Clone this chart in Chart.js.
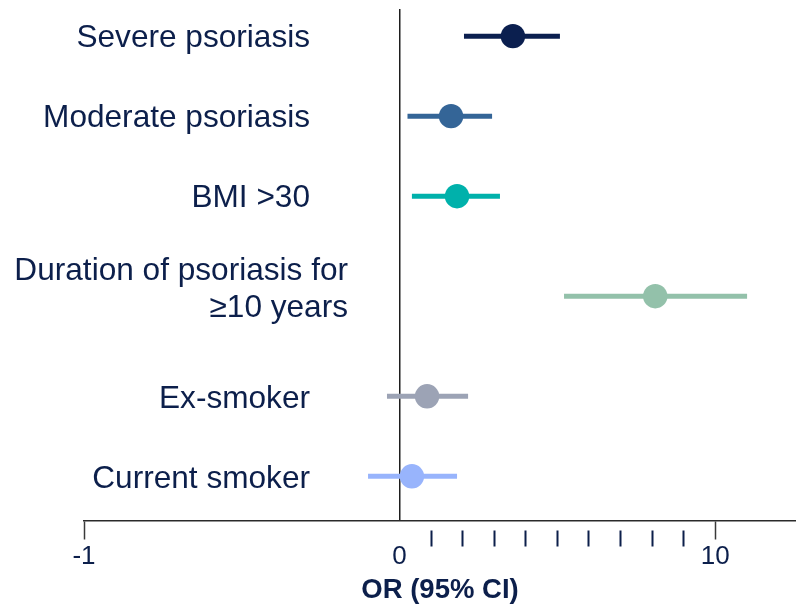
<!DOCTYPE html>
<html>
<head>
<meta charset="utf-8">
<title>Odds ratios</title>
<style>
  html, body { margin: 0; padding: 0; background: #ffffff; }
  #wrap { width: 796px; height: 604px; position: relative; }
</style>
<script src="https://cdn.jsdelivr.net/npm/chart.js@4.4.1/dist/chart.umd.min.js"></script>
</head>
<body>
<div id="wrap"><canvas id="forest"></canvas></div>
<script>
// Rows, top to bottom
const categories = [
  'Severe psoriasis',
  'Moderate psoriasis',
  'BMI >30',
  ['Duration of psoriasis for', '\u226510 years'],
  'Ex-smoker',
  'Current smoker'
];
// Odds ratio with 95% confidence interval for each row
const oddsRatio = [3.59, 1.63, 1.82, 8.10, 0.87, 0.39];
const ciLower   = [2.04, 0.25, 0.39, 5.21, -0.04, -0.10];
const ciUpper   = [5.08, 2.93, 3.18, 11.01, 2.17, 1.82];
// Axis ticks and which of them carry a label
const tickValues = [-1, 0, 1, 2, 3, 4, 5, 6, 7, 8, 9, 10];
const labelledTicks = [-1, 0, 10];
const axisTitle = 'OR (95% CI)';

const rowColors = ['#0b1f4f', '#346597', '#00b1ab', '#93c1aa', '#9ca3b5', '#98b4fc'];
const NAVY = '#0c1f4b';
const FONT = '"Liberation Sans", Arial, Helvetica, sans-serif';
const LABEL_SIZE = 31.6;

Chart.defaults.font.family = FONT;

// Horizontal scale where the stretch from -1 to 0 is as wide as 0 to 10
class SplitScale extends Chart.LinearScale {
  _seg() { return this.width / (1 + this.max / 10); }
  getPixelForValue(value) {
    const seg = this._seg();
    const off = value < 0 ? (value + 1) * seg : seg + value * seg / 10;
    return this.left + off;
  }
  getValueForPixel(pixel) {
    const seg = this._seg();
    const off = pixel - this.left;
    return off < seg ? off / seg - 1 : (off - seg) * 10 / seg;
  }
}
SplitScale.id = 'split';

// Vertical row scale: a row with a two-line caption gets more room than a one-line row
class RowScale extends Chart.LinearScale {
  getPixelForValue(value) {
    const weights = categories.map(c => 1 + (Array.isArray(c) ? c.length : 1));
    const centers = [];
    let acc = 0;
    weights.forEach(w => { centers.push(acc + w / 2); acc += w; });
    const n = centers.length;
    const head = 0.678, tail = 1.105;
    const unit = this.height / (centers[n - 1] - centers[0] + head + tail);
    const i = Math.max(0, Math.min(n - 2, Math.floor(value)));
    const c = centers[i] + (value - i) * (centers[i + 1] - centers[i]);
    return this.top + (head + c - centers[0]) * unit;
  }
}
RowScale.id = 'rows';

Chart.register(SplitScale, RowScale);

// Row captions, right-aligned to the left of the zero line
const rowLabels = {
  id: 'rowLabels',
  afterDatasetsDraw(chart) {
    const { ctx, scales: { x, y } } = chart;
    const zero = x.getPixelForValue(0);
    const capHalf = LABEL_SIZE * 0.358;
    ctx.save();
    ctx.font = LABEL_SIZE + 'px ' + FONT;
    ctx.fillStyle = NAVY;
    ctx.textAlign = 'right';
    ctx.textBaseline = 'alphabetic';
    categories.forEach((label, i) => {
      const yc = y.getPixelForValue(i);
      if (Array.isArray(label)) {
        const n = label.length;
        label.forEach((line, j) => {
          const ly = yc - 9 + (j - (n - 1) / 2) * 36.5;
          ctx.fillText(line, zero - 51.6, ly + capHalf);
        });
      } else {
        ctx.fillText(label, zero - 89.6, yc + capHalf);
      }
    });
    ctx.restore();
  }
};

const rows = categories.map((_, i) => i);

const ciSets = rows.map(i => ({
  type: 'line',
  data: [{ x: ciLower[i], y: i }, { x: ciUpper[i], y: i }],
  borderColor: rowColors[i],
  borderWidth: 5,
  borderCapStyle: 'butt',
  pointRadius: 0,
  pointHoverRadius: 0,
  fill: false,
  order: 2
}));

const pointSet = {
  type: 'scatter',
  data: rows.map(i => ({ x: oddsRatio[i], y: i })),
  pointBackgroundColor: rowColors,
  pointBorderColor: rowColors,
  pointBorderWidth: 0,
  pointRadius: 12.2,
  pointHoverRadius: 12.2,
  order: 1
};

new Chart(document.getElementById('forest'), {
  type: 'scatter',
  data: { datasets: [pointSet, ...ciSets] },
  options: {
    responsive: true,
    maintainAspectRatio: false,
    animation: false,
    events: [],
    layout: { autoPadding: false, padding: { left: 84, top: 9, right: 0, bottom: 0 } },
    plugins: {
      legend: { display: false },
      tooltip: { enabled: false }
    },
    scales: {
      x: {
        type: 'split',
        position: 'bottom',
        min: -1,
        max: 12.56,
        afterBuildTicks: s => { s.ticks = tickValues.map(v => ({ value: v })); },
        afterFit: s => { s.paddingLeft = 0; s.paddingRight = 0; },
        grid: {
          display: true,
          drawOnChartArea: true,
          drawTicks: true,
          tickLength: 26,
          color: c => (c.tick && c.tick.value === 0) ? '#1e1e1e' : 'rgba(0,0,0,0)',
          lineWidth: c => (c.tick && c.tick.value === 0) ? 1.5 : 1,
          tickColor: c => {
            const v = c.tick ? c.tick.value : null;
            if (v === 0) return 'rgba(0,0,0,0)';
            return labelledTicks.includes(v) ? '#3a3a3a' : NAVY;
          },
          tickWidth: c => (c.tick && labelledTicks.includes(c.tick.value)) ? 1.5 : 2,
          tickBorderDash: c => (c.tick && labelledTicks.includes(c.tick.value)) ? [18, 100] : [0, 9, 17, 100]
        },
        border: { display: true, color: '#2a2a2a', width: 1.5 },
        ticks: {
          autoSkip: false,
          maxRotation: 0,
          minRotation: 0,
          padding: -3,
          color: NAVY,
          font: { size: 26, lineHeight: 1 },
          callback: v => labelledTicks.includes(v) ? String(v) : ''
        },
        title: {
          display: true,
          text: axisTitle,
          color: NAVY,
          font: { size: 27.5, weight: 'bold', lineHeight: 1 },
          padding: { top: 10, bottom: 0 }
        }
      },
      y: {
        type: 'rows',
        display: false,
        min: 0,
        max: categories.length - 1
      }
    }
  },
  plugins: [rowLabels]
});
</script>
</body>
</html>
